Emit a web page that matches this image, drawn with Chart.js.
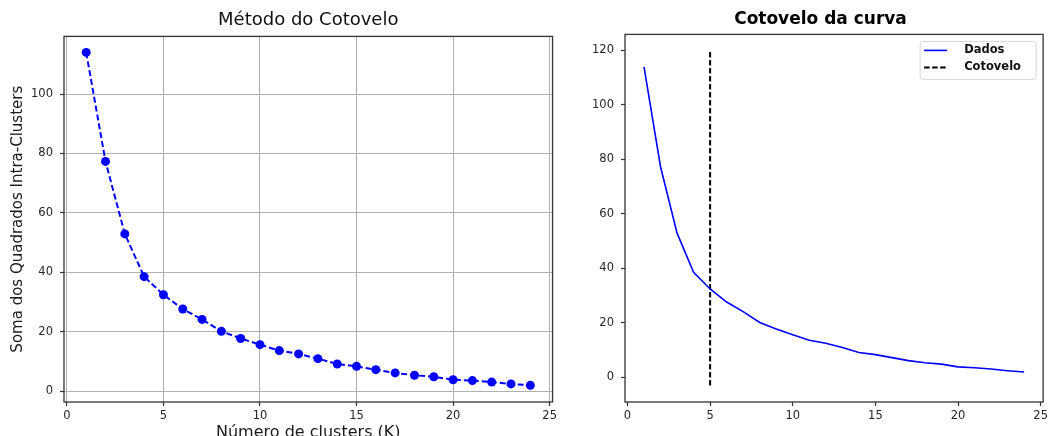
<!DOCTYPE html>
<html>
<head>
<meta charset="utf-8">
<style>
  html, body { margin: 0; padding: 0; background: #fff; overflow: hidden; }
  #wrap { position: relative; width: 1051px; height: 436px; overflow: hidden; }
  canvas { position: absolute; top: 0; }
</style>
</head>
<body>
<div id="wrap">
  <canvas id="elbowChart" width="560" height="446" style="left:0"></canvas>
  <canvas id="curveChart" width="466" height="446" style="left:585px"></canvas>
</div>
<script src="https://cdn.jsdelivr.net/npm/chart.js@4.4.1/dist/chart.umd.min.js"></script>
<script>
  // valores
  const ks = [1,2,3,4,5,6,7,8,9,10,11,12,13,14,15,16,17,18,19,20,21,22,23,24];
  const inertia = [114.0,77.3,52.9,38.5,32.4,27.6,24.1,20.1,17.7,15.6,13.6,12.5,10.9,9.1,8.3,7.2,6.1,5.3,4.8,3.8,3.5,3.0,2.4,1.9];
  const xTicks = [0,5,10,15,20,25];
  const yTicksLeft = [0,20,40,60,80,100];
  const yTicksRight = [0,20,40,60,80,100,120];
  const elbowK = 5;
  const elbowSpan = [-3, 120];

  const tickFont = {family: 'DejaVu Sans', size: 11.5};
  const tickColor = '#262626';

  // moldura nos 4 lados, como no matplotlib
  const frame = {
    id: 'frame',
    afterDatasetsDraw(chart) {
      const {ctx, chartArea: a} = chart;
      ctx.save();
      ctx.strokeStyle = '#333';
      ctx.lineWidth = 1.3;
      ctx.strokeRect(a.left, a.top, a.right - a.left, a.bottom - a.top);
      ctx.restore();
    }
  };

  // deixa os rotulos do eixo y usarem o padding da esquerda (senao sao cortados)
  const labelRoom = {
    id: 'labelRoom',
    afterLayout(chart) {
      chart.scales.y.left = 0;
    }
  };

  // legenda dentro da area do grafico (canto superior direito)
  const legendBox = {
    id: 'legendBox',
    afterDraw(chart, args, opts) {
      const {ctx, chartArea} = chart;
      const left = chartArea.right - opts.inset - opts.width;
      const top = chartArea.top + opts.inset;
      ctx.save();
      ctx.fillStyle = 'rgba(255,255,255,0.8)';
      ctx.strokeStyle = '#d5d5d5';
      ctx.lineWidth = 1;
      ctx.beginPath();
      ctx.roundRect(left, top, opts.width, opts.height, 3);
      ctx.fill();
      ctx.stroke();
      chart.data.datasets.forEach((ds, i) => {
        const y = top + opts.rowStart + i * opts.rowGap;
        ctx.strokeStyle = ds.borderColor;
        ctx.lineWidth = ds.borderWidth;
        ctx.setLineDash(ds.borderDash || []);
        ctx.beginPath();
        ctx.moveTo(left + 4, y);
        ctx.lineTo(left + 27, y);
        ctx.stroke();
        ctx.setLineDash([]);
        ctx.fillStyle = '#111';
        ctx.font = 'bold 11.5px "DejaVu Sans"';
        ctx.textBaseline = 'middle';
        ctx.fillText(ds.label, left + 44, y);
      });
      ctx.restore();
    }
  };

  new Chart(document.getElementById('elbowChart'), {
    type: 'scatter',
    data: {
      datasets: [{
        label: 'Inercia',
        data: ks.map((k, i) => ({x: k, y: inertia[i]})),
        showLine: true,
        borderColor: '#0000ff',
        backgroundColor: '#0000ff',
        borderWidth: 2,
        borderDash: [6, 3],
        pointRadius: 4.5,
        pointHoverRadius: 4.5,
        pointBorderWidth: 0
      }]
    },
    options: {
      responsive: false,
      animation: false,
      layout: {padding: {left: 0, right: 7, top: 0, bottom: 0}},
      plugins: {
        legend: {display: false},
        tooltip: {enabled: false},
        title: {
          display: true,
          fullSize: false,
          text: 'Método do Cotovelo',
          color: '#111',
          font: {family: 'DejaVu Sans', size: 18, weight: 'normal'},
          padding: {top: 10, bottom: 4.8}
        }
      },
      scales: {
        x: {
          type: 'linear',
          min: -0.15, max: 25.15,
          afterBuildTicks: s => { s.ticks = xTicks.map(v => ({value: v})); },
          afterFit: s => { s.height = 44; },
          border: {display: false},
          grid: {color: '#b0b0b0', lineWidth: 1, tickLength: 4, tickColor: '#333', tickWidth: 1.2},
          ticks: {color: tickColor, font: tickFont, padding: 3, maxRotation: 0, autoSkip: false},
          title: {
            display: true,
            text: 'Número de clusters (K)',
            color: '#1a1a1a',
            font: {family: 'DejaVu Sans', size: 16},
            padding: {top: 0, bottom: 4}
          }
        },
        y: {
          min: -3.7, max: 119.4,
          afterBuildTicks: s => { s.ticks = yTicksLeft.map(v => ({value: v})); },
          afterFit: s => { s.width = 64; },
          border: {display: false},
          grid: {color: '#b0b0b0', lineWidth: 1, tickLength: 4, tickColor: '#333', tickWidth: 1.2},
          ticks: {color: tickColor, font: tickFont, padding: 7},
          title: {
            display: true,
            text: 'Soma dos Quadrados Intra-Clusters',
            color: '#1a1a1a',
            font: {family: 'DejaVu Sans', size: 15},
            padding: {top: 9, bottom: 0}
          }
        }
      }
    },
    plugins: [frame]
  });

  new Chart(document.getElementById('curveChart'), {
    type: 'scatter',
    data: {
      datasets: [{
        label: 'Dados',
        data: ks.map((k, i) => ({x: k, y: inertia[i]})),
        showLine: true,
        borderColor: '#0000ff',
        borderWidth: 1.6,
        pointRadius: 0,
        pointHoverRadius: 0
      }, {
        label: 'Cotovelo',
        data: elbowSpan.map(v => ({x: elbowK, y: v})),
        showLine: true,
        borderColor: '#000',
        borderWidth: 2,
        borderDash: [5.5, 2.5],
        pointRadius: 0,
        pointHoverRadius: 0
      }]
    },
    options: {
      responsive: false,
      animation: false,
      layout: {padding: {left: 10, right: 5, top: 0, bottom: 0}},
      plugins: {
        legend: {display: false},
        tooltip: {enabled: false},
        legendBox: {inset: 7, width: 116, height: 38, rowStart: 9, rowGap: 17},
        title: {
          display: true,
          text: 'Cotovelo da curva',
          color: '#000',
          font: {family: 'DejaVu Sans', size: 17, weight: 'bold'},
          padding: {top: 9, bottom: 5}
        }
      },
      scales: {
        x: {
          type: 'linear',
          min: -0.15, max: 25.15,
          afterBuildTicks: s => { s.ticks = xTicks.map(v => ({value: v})); },
          afterFit: s => { s.height = 44; },
          border: {display: false},
          grid: {drawOnChartArea: false, tickLength: 4, tickColor: '#333', tickWidth: 1.2},
          ticks: {color: tickColor, font: tickFont, padding: 3, maxRotation: 0, autoSkip: false}
        },
        y: {
          min: -9.1, max: 125.9,
          afterBuildTicks: s => { s.ticks = yTicksRight.map(v => ({value: v})); },
          afterFit: s => { s.width = 30; },
          border: {display: false},
          grid: {drawOnChartArea: false, tickLength: 4, tickColor: '#333', tickWidth: 1.2},
          ticks: {color: tickColor, font: tickFont, padding: 7}
        }
      }
    },
    plugins: [frame, labelRoom, legendBox]
  });
</script>
</body>
</html>
